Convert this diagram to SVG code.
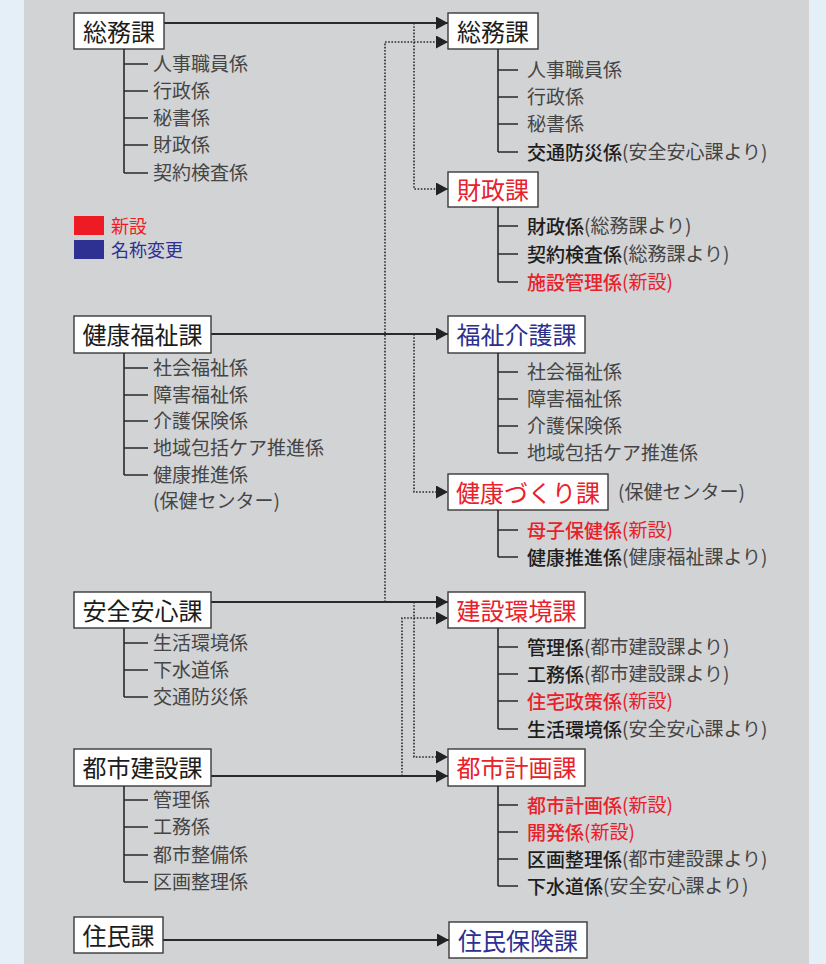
<svg xmlns="http://www.w3.org/2000/svg" width="826" height="964" viewBox="0 0 826 964">
<style>
text{font-family:"Noto Sans CJK JP","Noto Sans",sans-serif;dominant-baseline:central}
.box{fill:#fff;stroke:#3a3a3a;stroke-width:1.4}
.bt{font-size:24px;fill:#1c1c1c;text-anchor:middle}
.it{font-size:19px;fill:#454545}
.b{font-weight:500;fill:#1e1e1e}
.r{fill:#e8212b}
.rb{fill:#e8212b;font-weight:500}
.bl{fill:#2b2f8f}
.tree{fill:none;stroke:#2a2a2a;stroke-width:1.6}
.sol{fill:none;stroke:#2a2a2a;stroke-width:1.8}
.dot{fill:none;stroke:#2a2a2a;stroke-width:1.6;stroke-dasharray:1.6 1.6}
</style>
<defs>
<marker id="ah" viewBox="0 0 12 13" refX="12" refY="6.5" markerWidth="12" markerHeight="13" markerUnits="userSpaceOnUse" orient="auto">
<path d="M0,0 L12,6.5 L0,13 Z" fill="#222"/>
</marker>
</defs>
<rect x="0" y="0" width="826" height="964" fill="#e5eff8"/>
<rect x="24" y="0" width="785" height="964" fill="#d2d3d5"/>

<g id="connectors">
<path class="sol" d="M164,23 H448" marker-end="url(#ah)"/>
<path class="sol" d="M211,334 H448" marker-end="url(#ah)"/>
<path class="sol" d="M211,602 H448" marker-end="url(#ah)"/>
<path class="sol" d="M211,776 H448" marker-end="url(#ah)"/>
<path class="sol" d="M163,940 H449" marker-end="url(#ah)"/>
<path class="dot" d="M414,23 V189 H448" marker-end="url(#ah)"/>
<path class="dot" d="M385,602 V42 H448" marker-end="url(#ah)"/>
<path class="dot" d="M414,334 V492 H448" marker-end="url(#ah)"/>
<path class="dot" d="M414,602 V757 H448" marker-end="url(#ah)"/>
<path class="dot" d="M402,776 V618 H448" marker-end="url(#ah)"/>
</g>

<g id="legend">
<rect x="74" y="216" width="30" height="19" fill="#ed1c24"/>
<text x="111" y="225" style="font-size:18px;fill:#ed1c24">新設</text>
<rect x="74" y="240" width="30" height="19" fill="#2e3192"/>
<text x="111" y="249" style="font-size:18px;fill:#2e3192">名称変更</text>
</g>

<!-- Left side -->
<g id="old-soumu">
<rect class="box" x="74" y="13" width="90" height="36"/>
<text class="bt" x="119" y="30">総務課</text>
<path class="tree" d="M124,49 V173 M124,64 H148 M124,91 H148 M124,118 H148 M124,145 H148 M124,173 H148"/>
<text class="it" x="153" y="62.5">人事職員係</text>
<text class="it" x="153" y="89.5">行政係</text>
<text class="it" x="153" y="116.5">秘書係</text>
<text class="it" x="153" y="143.5">財政係</text>
<text class="it" x="153" y="171.5">契約検査係</text>
</g>

<g id="old-kenkoufukushi">
<rect class="box" x="74" y="316" width="137" height="37"/>
<text class="bt" x="142.5" y="333.5">健康福祉課</text>
<path class="tree" d="M124,353 V475 M124,368 H148 M124,395 H148 M124,421 H148 M124,448 H148 M124,475 H148"/>
<text class="it" x="153" y="366.5">社会福祉係</text>
<text class="it" x="153" y="393.5">障害福祉係</text>
<text class="it" x="153" y="419.5">介護保険係</text>
<text class="it" x="153" y="446.5">地域包括ケア推進係</text>
<text class="it" x="153" y="473.5">健康推進係</text>
<text class="it" x="153" y="499.5">(保健センター)</text>
</g>

<g id="old-anzen">
<rect class="box" x="74" y="592" width="137" height="36"/>
<text class="bt" x="142.5" y="609">安全安心課</text>
<path class="tree" d="M124,628 V697 M124,643 H148 M124,670 H148 M124,697 H148"/>
<text class="it" x="153" y="641.5">生活環境係</text>
<text class="it" x="153" y="668.5">下水道係</text>
<text class="it" x="153" y="695.5">交通防災係</text>
</g>

<g id="old-toshikensetsu">
<rect class="box" x="74" y="749" width="137" height="37"/>
<text class="bt" x="142.5" y="766.5">都市建設課</text>
<path class="tree" d="M124,786 V882 M124,800 H148 M124,827 H148 M124,855 H148 M124,882 H148"/>
<text class="it" x="153" y="798.5">管理係</text>
<text class="it" x="153" y="825.5">工務係</text>
<text class="it" x="153" y="853.5">都市整備係</text>
<text class="it" x="153" y="880.5">区画整理係</text>
</g>

<g id="old-jumin">
<rect class="box" x="74" y="917" width="89" height="36"/>
<text class="bt" x="118.5" y="934">住民課</text>
</g>

<!-- Right side -->
<g id="new-soumu">
<rect class="box" x="448" y="13" width="90" height="36"/>
<text class="bt" x="493" y="30">総務課</text>
<path class="tree" d="M498,49 V152 M498,70 H518 M498,97 H518 M498,124 H518 M498,152 H518"/>
<text class="it" x="527" y="68.5">人事職員係</text>
<text class="it" x="527" y="95.5">行政係</text>
<text class="it" x="527" y="122.5">秘書係</text>
<text class="it" x="527" y="150.5"><tspan class="b">交通防災係</tspan>(安全安心課より)</text>
</g>

<g id="new-zaisei">
<rect class="box" x="448" y="172" width="90" height="35"/>
<text class="bt r" x="493" y="188.5">財政課</text>
<path class="tree" d="M498,207 V282 M498,226 H518 M498,254 H518 M498,282 H518"/>
<text class="it" x="527" y="224.5"><tspan class="b">財政係</tspan>(総務課より)</text>
<text class="it" x="527" y="252.5"><tspan class="b">契約検査係</tspan>(総務課より)</text>
<text class="it r" x="527" y="280.5"><tspan class="rb">施設管理係</tspan>(新設)</text>
</g>

<g id="new-fukushikaigo">
<rect class="box" x="448" y="316" width="137" height="37"/>
<text class="bt bl" x="516.5" y="333.5">福祉介護課</text>
<path class="tree" d="M498,353 V453 M498,372 H518 M498,399 H518 M498,426 H518 M498,453 H518"/>
<text class="it" x="527" y="370.5">社会福祉係</text>
<text class="it" x="527" y="397.5">障害福祉係</text>
<text class="it" x="527" y="424.5">介護保険係</text>
<text class="it" x="527" y="451.5">地域包括ケア推進係</text>
</g>

<g id="new-kenkouzukuri">
<rect class="box" x="448" y="474" width="160" height="36"/>
<text class="bt r" x="528" y="491">健康づくり課</text>
<text class="it" x="618" y="490.5">(保健センター)</text>
<path class="tree" d="M498,510 V557 M498,530 H518 M498,557 H518"/>
<text class="it r" x="527" y="528.5"><tspan class="rb">母子保健係</tspan>(新設)</text>
<text class="it" x="527" y="555.5"><tspan class="b">健康推進係</tspan>(健康福祉課より)</text>
</g>

<g id="new-kensetsukankyou">
<rect class="box" x="448" y="592" width="137" height="36"/>
<text class="bt r" x="516.5" y="609">建設環境課</text>
<path class="tree" d="M498,628 V729 M498,647 H518 M498,674 H518 M498,701 H518 M498,729 H518"/>
<text class="it" x="527" y="645.5"><tspan class="b">管理係</tspan>(都市建設課より)</text>
<text class="it" x="527" y="672.5"><tspan class="b">工務係</tspan>(都市建設課より)</text>
<text class="it r" x="527" y="699.5"><tspan class="rb">住宅政策係</tspan>(新設)</text>
<text class="it" x="527" y="727.5"><tspan class="b">生活環境係</tspan>(安全安心課より)</text>
</g>

<g id="new-toshikeikaku">
<rect class="box" x="448" y="749" width="137" height="37"/>
<text class="bt r" x="516.5" y="766.5">都市計画課</text>
<path class="tree" d="M498,786 V886 M498,805 H518 M498,832 H518 M498,859 H518 M498,886 H518"/>
<text class="it r" x="527" y="803.5"><tspan class="rb">都市計画係</tspan>(新設)</text>
<text class="it r" x="527" y="830.5"><tspan class="rb">開発係</tspan>(新設)</text>
<text class="it" x="527" y="857.5"><tspan class="b">区画整理係</tspan>(都市建設課より)</text>
<text class="it" x="527" y="884.5"><tspan class="b">下水道係</tspan>(安全安心課より)</text>
</g>

<g id="new-juminhoken">
<rect class="box" x="449" y="922" width="138" height="36"/>
<text class="bt bl" x="518" y="939">住民保険課</text>
</g>
</svg>
